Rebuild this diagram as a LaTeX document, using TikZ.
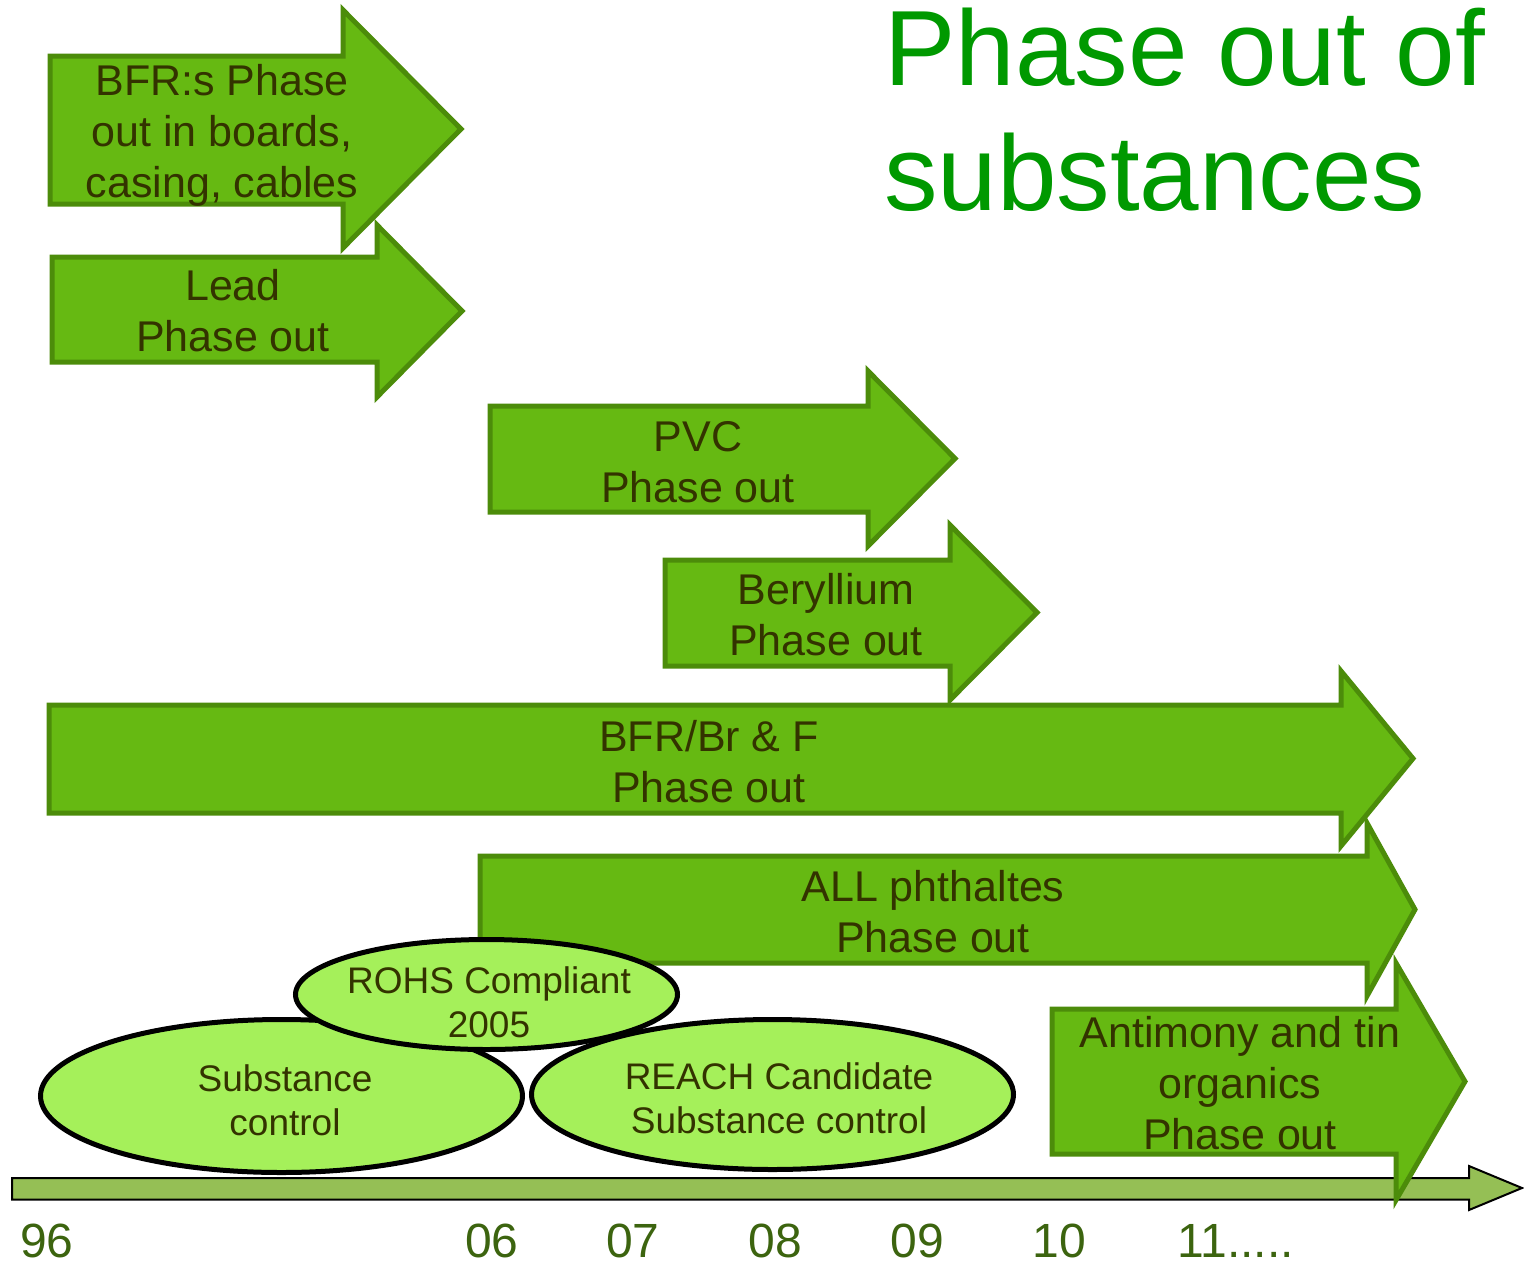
\documentclass[tikz,border=0pt]{standalone}
\usepackage{fontspec}
\setmainfont{Liberation Sans}
\usetikzlibrary{shapes.geometric}
\definecolor{arrfill}{RGB}{102,185,18}
\definecolor{arrline}{RGB}{76,140,10}
\definecolor{txtcol}{RGB}{51,51,0}
\definecolor{ellfill}{RGB}{165,240,90}
\definecolor{axfill}{RGB}{149,191,85}
\definecolor{titlecol}{RGB}{0,153,0}
\definecolor{yearcol}{RGB}{60,100,15}
\newcommand\stk[1]{\begin{tabular}[t]{@{}c@{}}#1\end{tabular}}
\newcommand\stkl[1]{\begin{tabular}[t]{@{}l@{}}#1\end{tabular}}
% x1, ytop, ybottom, headx, headtop, headbottom, tipx
\newcommand\phasearrow[7]{\draw[arrbox] (#1,#2) -- (#4,#2) -- (#4,#5) -- (#7,{(#5+#6)/2}) -- (#4,#6) -- (#4,#3) -- (#1,#3) -- cycle;}
\begin{document}
\begin{tikzpicture}[x=1pt,y=-1pt,
  arrbox/.style={fill=arrfill,draw=arrline,line width=5pt,line join=miter},
  axisbox/.style={fill=axfill,draw=black,line width=2pt,line join=miter},
  lbl/.style={anchor=base,inner sep=0pt,text=txtcol,font=\fontsize{43}{51}\selectfont},
  elbl/.style={anchor=base,inner sep=0pt,text=txtcol,font=\fontsize{37}{44}\selectfont},
  ell/.style={ellipse,draw=black,line width=5pt,fill=ellfill,inner sep=0pt},
  year/.style={anchor=base,inner sep=0pt,text=yearcol,font=\fontsize{48}{52}\selectfont},
  title/.style={anchor=base west,inner sep=0pt,text=titlecol,font=\fontsize{107}{125}\selectfont}]
\useasboundingbox (0,0) rectangle (1524,1267);

% time axis
\draw[axisbox] (12,1178) -- (1469,1178) -- (1469,1166) -- (1522,1188) -- (1469,1210) -- (1469,1199.5) -- (12,1199.5) -- cycle;

% Antimony
\phasearrow{1052}{1009}{1154}{1396}{963}{1200}{1465}
\node[lbl] (antimony) at (1240,1047) {\stk{Antimony and tin\\organics\\Phase out}};
% ALL phthaltes
\phasearrow{480}{856}{963}{1367}{823}{996}{1415}
\node[lbl] (phthal) at (933,901) {\stk{ALL phthaltes\\Phase out}};
% BFR/Br & F
\phasearrow{49}{705}{813}{1341}{671}{846}{1413}
\node[lbl] (bfrbr) at (709,751) {\stk{BFR/Br \& F\\Phase out}};
% Beryllium
\phasearrow{665}{560}{666}{950}{525}{700}{1037}
\node[lbl] (beryl) at (826,604) {\stk{Beryllium\\Phase out}};
% PVC
\phasearrow{490}{406}{512}{868}{371}{546}{955}
\node[lbl] (pvc) at (698,451) {\stk{PVC\\Phase out}};
% Lead
\phasearrow{52}{257}{362}{377}{225}{397}{462}
\node[lbl] (lead) at (233,300) {\stk{Lead\\Phase out}};
% BFR:s
\phasearrow{50}{56}{204}{343}{10}{248}{461}
\node[lbl] (bfrs) at (222,95) {\stk{BFR:s Phase\\out in boards,\\casing, cables}};

% ellipses
\node[ell,minimum width=482pt,minimum height=153pt] (subst) at (281.5,1096) {};
\node[ell,minimum width=482pt,minimum height=150pt] (reach) at (772.5,1094.5) {};
\node[ell,minimum width=382pt,minimum height=110pt] (rohs) at (486.5,994.5) {};
\node[elbl] (substtxt) at (285,1091) {\stk{Substance\\control}};
\node[elbl] (reachtxt) at (779,1089) {\stk{REACH Candidate\\Substance control}};
\node[elbl] (rohstxt) at (489,993) {\stk{ROHS Compliant\\2005}};

% title
\node[title] (ttl) at (884,85) {\stkl{Phase out of\\substances}};

% years
\node[year] (y96) at (47,1257) {96};
\node[year] (y06) at (492,1257) {06};
\node[year] (y07) at (633,1257) {07};
\node[year] (y08) at (775,1257) {08};
\node[year] (y09) at (917,1257) {09};
\node[year] (y10) at (1059,1257) {10};
\node[year,anchor=base west] (y11) at (1177,1257) {11.....};
\end{tikzpicture}
\end{document}
